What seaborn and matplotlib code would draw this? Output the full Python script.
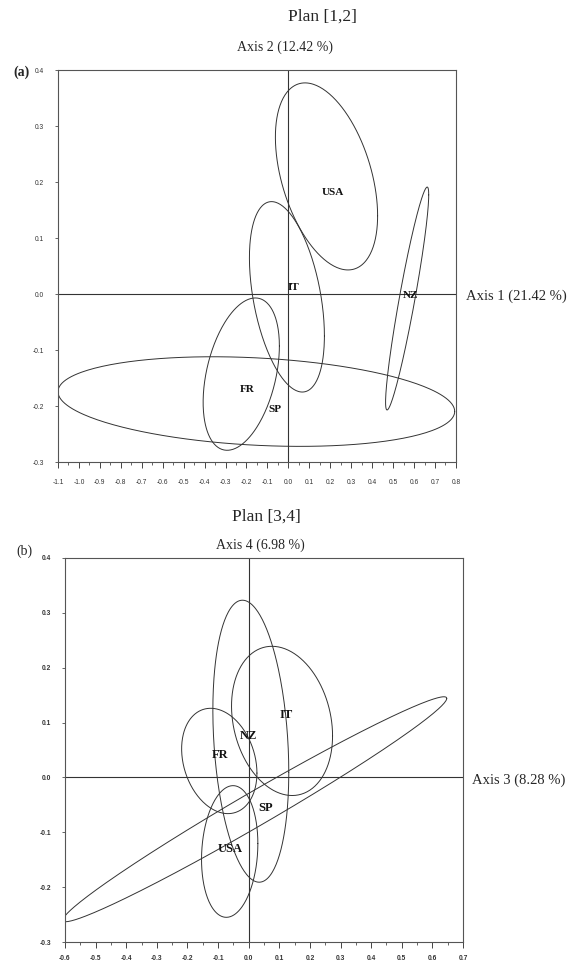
import numpy as np
import pandas as pd
import matplotlib
matplotlib.use("Agg")
import matplotlib.pyplot as plt
import seaborn as sns

sns.set_style("ticks")
plt.rcParams['font.family'] = ['Liberation Serif', 'DejaVu Serif']

countries = ['USA', 'IT', 'NZ', 'FR', 'SP']

# Plan [1,2]: ellipse centre, half extents along x and y, and x/y correlation
a_cx = [0.182, -0.007, 0.567, -0.225, -0.153]
a_cy = [0.210, -0.005, -0.008, -0.143, -0.192]
a_sx = [0.244, 0.179, 0.103, 0.182, 0.947]
a_sy = [0.167, 0.170, 0.199, 0.136, 0.080]
a_r = [-0.42, -0.41, 0.93, 0.37, -0.22]
a_lx = [0.21, 0.024, 0.584, -0.196, -0.062]
a_ly = [0.182, 0.0125, -0.002, -0.171, -0.207]

# Plan [3,4]
b_cx = [-0.062, 0.109, 0.007, -0.096, 0.020]
b_cy = [-0.135, 0.103, 0.066, 0.030, -0.058]
b_sx = [0.092, 0.165, 0.124, 0.123, 0.627]
b_sy = [0.120, 0.136, 0.257, 0.096, 0.205]
b_r = [0.12, -0.20, -0.22, -0.23, 0.985]
b_lx = [-0.062, 0.124, 0.0, -0.092, 0.056]
b_ly = [-0.131, 0.113, 0.075, 0.040, -0.055]

a_xticks = np.round(np.arange(-1.1, 0.81, 0.1), 1) + 0.0
a_yticks = np.round(np.arange(-0.3, 0.41, 0.1), 1) + 0.0
b_xticks = np.round(np.arange(-0.6, 0.71, 0.1), 1) + 0.0
b_yticks = np.round(np.arange(-0.3, 0.41, 0.1), 1) + 0.0


def fmt(v):
    return '0.0' if abs(v) < 1e-9 else f'{v:.1f}'


def ellipse_frame(cx, cy, sx, sy, r, name):
    t = np.linspace(0, 2 * np.pi, 300)
    x = cx + sx * np.cos(t)
    y = cy + sy * (r * np.cos(t) + np.sqrt(1 - r ** 2) * np.sin(t))
    return pd.DataFrame({'x': x, 'y': y, 'group': name})


def draw_panel(ax, cx, cy, sx, sy, r, lx, ly, xticks, yticks,
               label_size, tick_weight, xpad):
    df = pd.concat([ellipse_frame(*v) for v in zip(cx, cy, sx, sy, r, countries)])
    for name, g in df.groupby('group'):
        sns.lineplot(data=g, x='x', y='y', sort=False, estimator=None,
                     color='#333333', linewidth=0.7, ax=ax)
    for name, x, y in zip(countries, lx, ly):
        ax.text(x, y, name, ha='center', va='center', fontsize=label_size,
                fontweight='bold', color='#111111')
    ax.axhline(0, color='#333333', linewidth=0.8)
    ax.axvline(0, color='#333333', linewidth=0.8)
    ax.set_xlim(xticks[0], xticks[-1])
    ax.set_ylim(yticks[0], yticks[-1])
    ax.set_xticks(xticks)
    ax.set_yticks(yticks)
    ax.set_xticks(np.round(np.arange(xticks[0], xticks[-1], 0.1) + 0.05, 2), minor=True)
    ax.set_xticklabels([fmt(v) for v in xticks], fontsize=4.8,
                       family='Liberation Sans', fontweight=tick_weight, color='#333333')
    ax.set_yticklabels([fmt(v) for v in yticks], fontsize=4.8,
                       family='Liberation Sans', fontweight=tick_weight, color='#333333')
    ax.tick_params(axis='x', which='major', length=4, width=0.6, pad=xpad)
    ax.tick_params(axis='x', which='minor', length=2, width=0.5)
    ax.tick_params(axis='y', which='major', length=2, width=0.5, pad=8)
    ax.set_xlabel('')
    ax.set_ylabel('')
    for s in ax.spines.values():
        s.set_visible(True)
        s.set_linewidth(0.8)
        s.set_color('#555555')


fig = plt.figure(figsize=(5.85, 9.63), dpi=100)

ax1 = fig.add_axes([0.0991, 0.5202, 0.6803, 0.4071])
draw_panel(ax1, a_cx, a_cy, a_sx, a_sy, a_r, a_lx, a_ly, a_xticks, a_yticks,
           8, 'normal', 8)

ax2 = fig.add_axes([0.1111, 0.0218, 0.6803, 0.3988])
draw_panel(ax2, b_cx, b_cy, b_sx, b_sy, b_r, b_lx, b_ly, b_xticks, b_yticks,
           9, 'bold', 5)

fig.text(322 / 585, 1 - 17 / 963, 'Plan [1,2]', ha='center', va='center', fontsize=12.5)
fig.text(285 / 585, 1 - 47 / 963, 'Axis 2 (12.42 %)', ha='center', va='center', fontsize=10)
fig.text(22 / 585, 1 - 72 / 963, '(a)', ha='center', va='center', fontsize=10, fontweight='bold')
fig.text(466 / 585, 1 - 296 / 963, 'Axis 1 (21.42 %)', ha='left', va='center', fontsize=10.5)

fig.text(266 / 585, 1 - 517 / 963, 'Plan [3,4]', ha='center', va='center', fontsize=12.5)
fig.text(260 / 585, 1 - 545 / 963, 'Axis 4 (6.98 %)', ha='center', va='center', fontsize=10)
fig.text(24 / 585, 1 - 551 / 963, '(b)', ha='center', va='center', fontsize=10)
fig.text(472 / 585, 1 - 780 / 963, 'Axis 3 (8.28 %)', ha='left', va='center', fontsize=10.5)

fig.savefig('out.png', dpi=100)
